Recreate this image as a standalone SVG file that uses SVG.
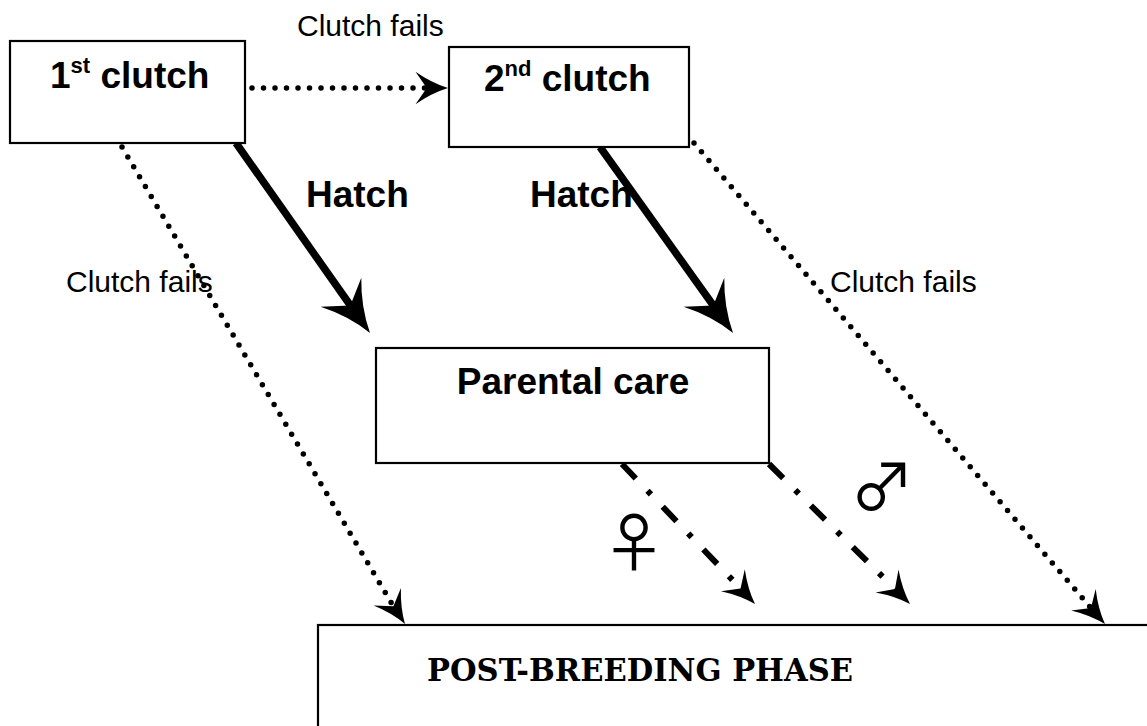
<svg xmlns="http://www.w3.org/2000/svg" width="1147" height="726" viewBox="0 0 1147 726">
<style>
.box{fill:#fff;stroke:#000;stroke-width:2.2}
.t{font-family:"Liberation Sans",Arial,sans-serif;fill:#000}
.b{font-weight:bold;font-size:37px}
.lbl{font-size:30px}
.dot{fill:none;stroke:#000;stroke-width:5.5;stroke-linecap:round;stroke-dasharray:0 11.5}
.thick{fill:none;stroke:#000;stroke-width:7.5}
.dd{fill:none;stroke:#000;stroke-width:6;stroke-dasharray:20 17 5 17}
.hid{fill:none;stroke:none}
.sym{font-family:"Noto Sans CJK JP","DejaVu Sans",sans-serif;font-size:64px;fill:#000}
</style>
<defs>
<marker id="big" markerUnits="userSpaceOnUse" markerWidth="60" markerHeight="60" viewBox="-44 -23 48 46" refX="0" refY="0" orient="auto">
<path d="M0,0 Q-21,-6 -40,-20 L-27,0 L-40,20 Q-21,6 0,0 Z" fill="#000"/>
</marker>
<marker id="sm" markerUnits="userSpaceOnUse" markerWidth="40" markerHeight="40" viewBox="-30 -16 32 32" refX="0" refY="0" orient="auto">
<path d="M0,0 Q-13,-4 -26,-13 L-17,0 L-26,13 Q-13,4 0,0 Z" fill="#000"/>
</marker>
</defs>

<g id="connectors">
<line class="dot" x1="252" y1="88" x2="430" y2="88"/>
<line class="hid" x1="430" y1="88" x2="448" y2="88" marker-end="url(#sm)"/>
<path class="dot" d="M122,147 L392,604"/>
<path class="hid" d="M392,604 L405,624" marker-end="url(#sm)"/>
<path class="dot" d="M694,143 L1090,607"/>
<path class="hid" d="M1090,607 L1105,624" marker-end="url(#sm)"/>
<path class="thick" d="M236,143 L355,312"/>
<path class="hid" d="M355,312 L370,333" marker-end="url(#big)"/>
<path class="thick" d="M600,147 L718,312"/>
<path class="hid" d="M718,312 L733,333" marker-end="url(#big)"/>
<path class="dd" d="M622,464 L742,590"/>
<path class="hid" d="M742,590 L755,604" marker-end="url(#sm)"/>
<path class="dd" d="M769,464 L897,591"/>
<path class="hid" d="M897,591 L910,604" marker-end="url(#sm)"/>
</g>

<g id="n1">
<rect class="box" x="10" y="41" width="235" height="102"/>
<text class="t b" x="50" y="88">1<tspan font-size="22" dy="-15">st</tspan><tspan dy="15"> clutch</tspan></text>
</g>
<g id="n2">
<rect class="box" x="449" y="47" width="240" height="100"/>
<text class="t b" x="484" y="91">2<tspan font-size="22" dy="-15">nd</tspan><tspan dy="15"> clutch</tspan></text>
</g>
<g id="n3">
<rect class="box" x="376" y="348" width="393" height="115"/>
<text class="t b" x="573" y="394" text-anchor="middle" font-size="34">Parental care</text>
</g>
<g id="n4">
<rect class="box" x="318" y="625" width="840" height="120"/>
<text x="640" y="681" text-anchor="middle" font-family="'DejaVu Serif',serif" font-weight="bold" font-size="31" textLength="426" lengthAdjust="spacingAndGlyphs">POST-BREEDING PHASE</text>
</g>

<g id="labels">
<text class="t lbl" x="297" y="36">Clutch fails</text>
<text class="t b" x="306" y="207" font-size="33">Hatch</text>
<text class="t b" x="530" y="207" font-size="33">Hatch</text>
<text class="t lbl" x="66" y="292">Clutch fails</text>
<text class="t lbl" x="830" y="292">Clutch fails</text>
<text class="sym" x="634" y="566" text-anchor="middle">♀</text>
<text class="sym" x="882" y="510" text-anchor="middle">♂</text>
</g>
</svg>
